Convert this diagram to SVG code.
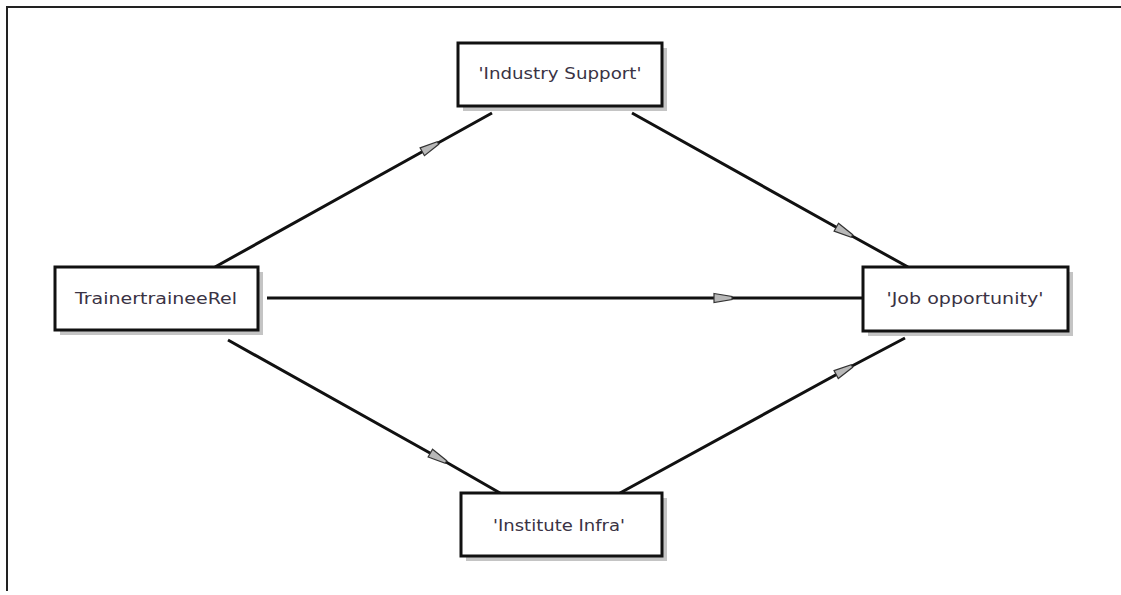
<svg xmlns="http://www.w3.org/2000/svg" width="1121" height="595" viewBox="0 0 1121 595">
  <style>
    .box { fill: #ffffff; stroke: #111111; stroke-width: 3; }
    .shadow { fill: #c4c4c4; }
    .label { font-family: "DejaVu Sans", "Liberation Sans", sans-serif; font-size: 15px; fill: #3a3344; text-anchor: middle; }
    .edge { fill: none; stroke: #111111; stroke-width: 3; marker-mid: url(#arrow); }
  </style>
  <defs>
    <marker id="arrow" markerUnits="userSpaceOnUse" markerWidth="24" markerHeight="14" viewBox="-20 -7 24 14" refX="0" refY="0" orient="auto" overflow="visible">
      <path d="M -18 -4.5 L 0 -1.5 L 0 1.5 L -18 4.5 Z" fill="#b8b8b8" stroke="#333333" stroke-width="1.2"/>
    </marker>
  </defs>
  <rect width="1121" height="595" fill="#ffffff"/>
  <path d="M 7 591 L 7 7 L 1121 7" fill="none" stroke="#222222" stroke-width="2"/>

  <g id="connectors">
    <path class="edge" d="M 215 267 L 438 143 L 492 113"/>
    <path class="edge" d="M 632 113 L 852 236 L 908 267"/>
    <path class="edge" d="M 267 298 L 732 298 L 863 298"/>
    <path class="edge" d="M 228 340 L 446 462 L 500 493"/>
    <path class="edge" d="M 620 493 L 852 366 L 905 338"/>
  </g>

  <g id="industry-support">
    <rect class="shadow" x="463" y="48" width="204" height="63"/>
    <rect class="box" x="458" y="43" width="204" height="63"/>
    <text class="label" x="560" y="79" textLength="163" lengthAdjust="spacingAndGlyphs">'Industry Support'</text>
  </g>

  <g id="trainertraineerel">
    <rect class="shadow" x="60" y="272" width="203" height="63"/>
    <rect class="box" x="55" y="267" width="203" height="63"/>
    <text class="label" x="156" y="304" textLength="162" lengthAdjust="spacingAndGlyphs">TrainertraineeRel</text>
  </g>

  <g id="job-opportunity">
    <rect class="shadow" x="868" y="272" width="205" height="64"/>
    <rect class="box" x="863" y="267" width="205" height="64"/>
    <text class="label" x="965" y="304" textLength="157" lengthAdjust="spacingAndGlyphs">'Job opportunity'</text>
  </g>

  <g id="institute-infra">
    <rect class="shadow" x="466" y="498" width="201" height="63"/>
    <rect class="box" x="461" y="493" width="201" height="63"/>
    <text class="label" x="559" y="531" textLength="132" lengthAdjust="spacingAndGlyphs">'Institute Infra'</text>
  </g>
</svg>
